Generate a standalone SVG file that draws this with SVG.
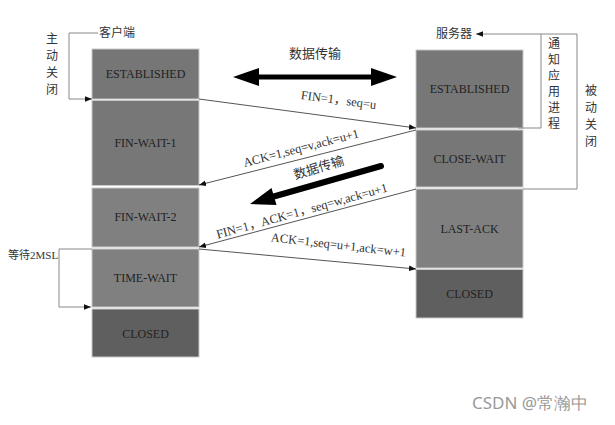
<svg xmlns="http://www.w3.org/2000/svg" width="615" height="425" viewBox="0 0 615 425">
<defs>
<style>
.box{stroke:#c8c8c8;stroke-width:1}
.st{font-family:"Liberation Serif","DejaVu Serif",serif;font-size:12px;fill:#222;text-anchor:middle}
.cn{font-family:"Noto Sans CJK SC",sans-serif;font-size:12px;fill:#333}
.lbl{font-family:"Liberation Serif","Noto Sans CJK SC",serif;font-size:12.5px;fill:#333;text-anchor:middle}
.ln{stroke:#555;stroke-width:1;fill:none}
.br{stroke:#888;stroke-width:1;fill:none}
</style>
<marker id="ah" viewBox="0 0 10 10" refX="10" refY="5" markerWidth="7" markerHeight="7" markerUnits="userSpaceOnUse" orient="auto">
<path d="M0,1 L10,5 L0,9 Z" fill="#111"/>
</marker>
</defs>
<rect width="615" height="425" fill="#fff"/>

<g id="client-established"><rect class="box" x="92" y="49" width="107" height="50" fill="#767676"/><text class="st" x="145.5" y="78">ESTABLISHED</text></g>
<g id="client-fin-wait-1"><rect class="box" x="92" y="100.5" width="107" height="85" fill="#777777"/><text class="st" x="145.5" y="147">FIN-WAIT-1</text></g>
<g id="client-fin-wait-2"><rect class="box" x="92" y="188" width="107" height="59" fill="#808080"/><text class="st" x="145.5" y="221">FIN-WAIT-2</text></g>
<g id="client-time-wait"><rect class="box" x="92" y="249" width="107" height="58" fill="#808080"/><text class="st" x="145.5" y="282">TIME-WAIT</text></g>
<g id="client-closed"><rect class="box" x="92" y="309" width="107" height="48" fill="#5f5f5f"/><text class="st" x="145.5" y="338">CLOSED</text></g>

<g id="server-established"><rect class="box" x="416" y="50" width="107" height="78" fill="#777777"/><text class="st" x="469.5" y="93">ESTABLISHED</text></g>
<g id="server-close-wait"><rect class="box" x="416" y="130" width="107" height="57" fill="#777777"/><text class="st" x="469.5" y="163">CLOSE-WAIT</text></g>
<g id="server-last-ack"><rect class="box" x="416" y="189" width="107" height="79" fill="#808080"/><text class="st" x="469.5" y="233">LAST-ACK</text></g>
<g id="server-closed"><rect class="box" x="416" y="269.5" width="107" height="48.5" fill="#5f5f5f"/><text class="st" x="469.5" y="298">CLOSED</text></g>

<g id="labels">
<text class="cn" x="99" y="37">客户端</text>
<text class="cn" x="436" y="38">服务器</text>
<text class="cn" x="46" y="43">主</text>
<text class="cn" x="46" y="60">动</text>
<text class="cn" x="46" y="77">关</text>
<text class="cn" x="46" y="94">闭</text>
<text class="cn" x="548" y="48">通</text>
<text class="cn" x="548" y="64">知</text>
<text class="cn" x="548" y="80">应</text>
<text class="cn" x="548" y="96">用</text>
<text class="cn" x="548" y="112">进</text>
<text class="cn" x="548" y="128">程</text>
<text class="cn" x="585" y="95">被</text>
<text class="cn" x="585" y="112">动</text>
<text class="cn" x="585" y="129">关</text>
<text class="cn" x="585" y="146">闭</text>
<text class="cn" x="8" y="259" style="font-size:11px"><tspan>等待</tspan><tspan font-family="Liberation Serif,serif">2MSL</tspan></text>
<text class="cn" x="315" y="58" text-anchor="middle" style="font-size:13px">数据传输</text>
<text class="cn" transform="translate(320,172) rotate(-17)" text-anchor="middle" style="font-size:13px">数据传输</text>
<text font-family="Noto Sans,sans-serif" font-size="17" fill="#999" x="472" y="409">CSDN @常瀚中</text>
</g>

<g id="connectors">
<polyline class="br" points="98,33 69,33 69,99 92,99" marker-end="url(#ah)"/>
<polyline class="br" points="518,128 541,128 541,34" />
<polyline class="br" points="523,189 577,189 577,34 476,34" marker-end="url(#ah)"/>
<polyline class="br" points="92,249 59,249 59,307 91,307" marker-end="url(#ah)"/>

<line class="ln" x1="199" y1="99" x2="416" y2="128" marker-end="url(#ah)"/>
<line class="ln" x1="416" y1="130" x2="199" y2="185" marker-end="url(#ah)"/>
<line class="ln" x1="416" y1="189" x2="199" y2="247" marker-end="url(#ah)"/>
<line class="ln" x1="199" y1="249" x2="416" y2="269" marker-end="url(#ah)"/>

<line x1="255" y1="77" x2="375" y2="77" stroke="#000" stroke-width="5"/>
<polygon points="233,77 259,68 259,86" fill="#000"/>
<polygon points="397,77 371,68 371,86" fill="#000"/>

<line x1="381" y1="166" x2="272" y2="197" stroke="#000" stroke-width="6" stroke-linecap="round"/>
<polygon points="250,204 276.5,205 271.5,188" fill="#000"/>

<text class="lbl" transform="translate(338,104) rotate(7.6)">FIN=1，seq=u</text>
<text class="lbl" transform="translate(302,152) rotate(-14.5)">ACK=1,seq=v,ack=u+1</text>
<text class="lbl" transform="translate(303,215) rotate(-15.5)">FIN=1，ACK=1，seq=w,ack=u+1</text>
<text class="lbl" transform="translate(338,249) rotate(6.5)">ACK=1,seq=u+1,ack=w+1</text>
</g>
</svg>
